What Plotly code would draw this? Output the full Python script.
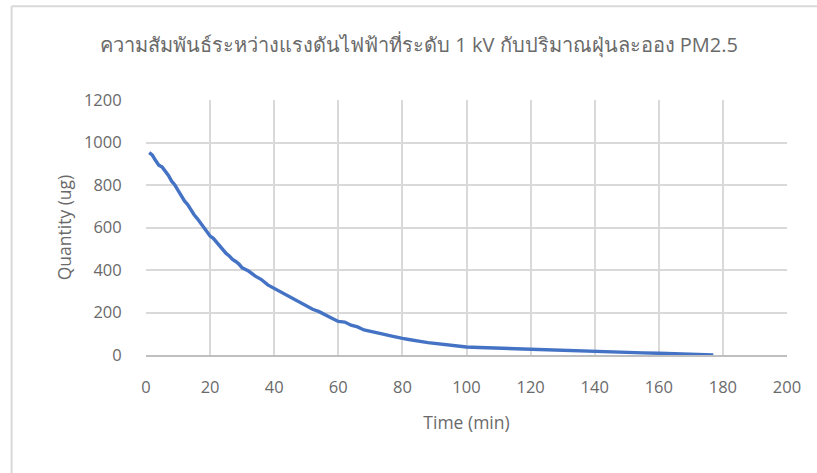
import plotly.graph_objects as go

time_min = [1, 2, 3, 4, 5, 6, 7, 8, 9, 10, 11, 12, 13, 14, 15, 16, 17, 18, 19, 20,
            21, 22, 23, 24, 25, 26, 27, 28, 29, 30, 32, 34, 36, 38, 40, 42, 44, 46, 48, 50,
            52, 54, 56, 58, 60, 62, 64, 66, 68, 70, 72, 74, 76, 78, 80, 82, 84, 86, 88, 90,
            92, 94, 96, 98, 100, 104, 108, 112, 116, 120, 124, 128, 132, 134, 136, 140, 145,
            150, 155, 160, 165, 170, 174, 177]
quantity_ug = [952, 940, 915, 893, 885, 866, 845, 818, 800, 775, 748, 725, 708, 683, 660,
               642, 621, 598, 578, 560, 549, 530, 510, 492, 478, 466, 450, 440, 428, 410,
               395, 372, 355, 330, 314, 298, 280, 265, 248, 230, 215, 204, 187, 173, 158,
               155, 140, 132, 118, 110, 104, 98, 91, 83, 78, 73, 66, 63, 58, 54,
               50, 47, 43, 40, 38, 35, 33, 31, 28, 26, 24, 21, 18, 19, 16, 15, 13,
               12, 10, 8, 6, 4, 2, 0]

title_text = "ความสัมพันธ์ระหว่างแรงดันไฟฟ้าที่ระดับ 1 kV กับปริมาณฝุ่นละออง PM2.5"
x_title = "Time (min)"
y_title = "Quantity (ug)"
x_ticks = [0, 20, 40, 60, 80, 100, 120, 140, 160, 180, 200]
y_ticks = [0, 200, 400, 600, 800, 1000, 1200]

W, H = 817, 473
L, R, T, B = 145.5, 30, 100, 117.5
pw = W - L - R
ph = H - T - B

fig = go.Figure()
fig.add_trace(go.Scatter(x=time_min, y=quantity_ug, mode="lines",
                         line=dict(color="#4472C4", width=3.4), showlegend=False))

font_family = "Open Sans, Noto Sans, sans-serif"
grid = "#D9D9D9"
txt = "#6a6a6a"

fig.update_layout(
    width=W, height=H,
    margin=dict(l=L, r=R, t=T, b=B),
    paper_bgcolor="white", plot_bgcolor="white",
    font=dict(family=font_family, color=txt),
    title=dict(text=title_text, x=419 / W, xref="container", xanchor="center",
               y=1 - 45 / H, yref="container", yanchor="middle",
               font=dict(size=20, color=txt, family=font_family)),
    xaxis=dict(range=[0, 200], tickvals=x_ticks, showgrid=True, gridcolor=grid, gridwidth=1.5,
               zeroline=False, showline=True, linecolor="#BFBFBF", linewidth=1.5,
               ticks="outside", ticklen=16, tickcolor="rgba(0,0,0,0)",
               tickfont=dict(size=16.5, color=txt),
               title=dict(text=x_title, font=dict(size=17.5, color=txt), standoff=20)),
    yaxis=dict(range=[0, 1200], tickvals=y_ticks, showgrid=True, gridcolor=grid, gridwidth=1.5,
               zeroline=False, showline=False,
               ticks="outside", ticklen=20, tickcolor="rgba(0,0,0,0)",
               tickfont=dict(size=16.5, color=txt),
               title=dict(text=y_title, font=dict(size=17.5, color=txt), standoff=7)),
)

# Chart-area border (left and top edges visible in the frame)
fig.add_shape(type="line", xref="paper", yref="paper",
              x0=(11 - L) / pw, x1=(11 - L) / pw,
              y0=-(B + 20) / ph, y1=(H - B - 6) / ph,
              line=dict(color="#D9D9D9", width=2), layer="above")
fig.add_shape(type="line", xref="paper", yref="paper",
              x0=(11 - L) / pw, x1=(W + 20 - L) / pw,
              y0=(H - B - 6) / ph, y1=(H - B - 6) / ph,
              line=dict(color="#D9D9D9", width=2), layer="above")

fig.write_html("out.html", config={"displayModeBar": False},
               post_script="document.body.style.margin='0';")
